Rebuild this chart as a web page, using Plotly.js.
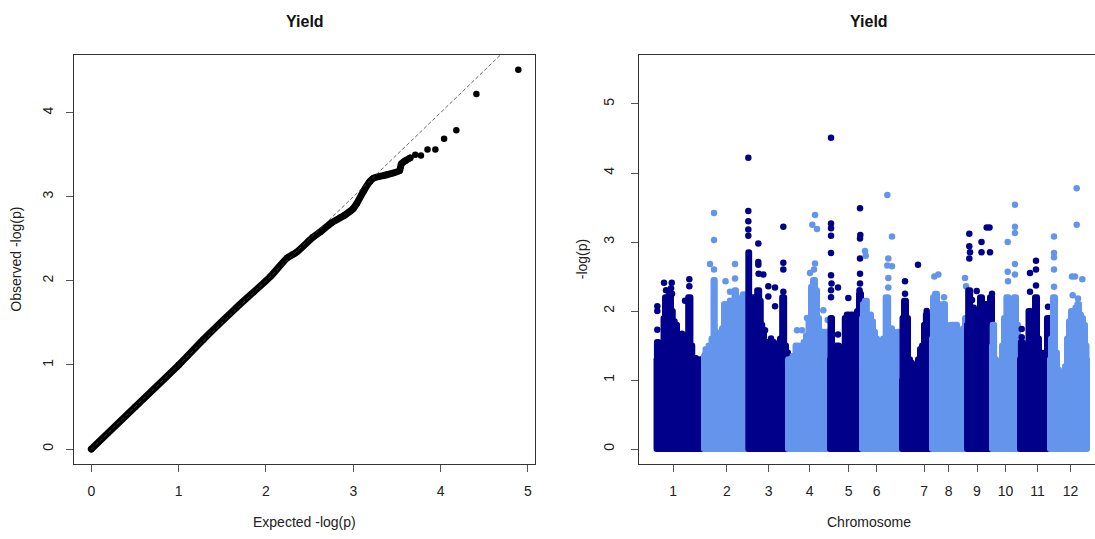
<!DOCTYPE html>
<html>
<head>
<meta charset="utf-8">
<script src="https://cdn.plot.ly/plotly-3.0.1.min.js"></script>
<style>
html,body{margin:0;padding:0;background:#fff;}
#chart{width:1095px;height:539px;}
.scatterlayer .js-line{stroke-linejoin:round;stroke-linecap:round;}
</style>
</head>
<body>
<div id="chart"></div>
<script>
// ---------------- QQ plot data ----------------
const qqExpected = [0, 0.5, 1.0, 1.28, 1.66, 2.05, 2.24, 2.35, 2.54, 2.62, 2.75, 2.90, 3.00, 3.04, 3.12, 3.19, 3.23, 3.38, 3.53, 3.55, 3.60, 3.65];
const qqObserved = [0, 0.5, 1.0, 1.30, 1.68, 2.05, 2.27, 2.34, 2.52, 2.58, 2.69, 2.78, 2.86, 2.92, 3.07, 3.18, 3.22, 3.26, 3.31, 3.39, 3.43, 3.46];
const qqTopExpected = [3.71, 3.775, 3.85, 3.94, 4.04, 4.18, 4.41, 4.89];
const qqTopObserved = [3.50, 3.49, 3.56, 3.56, 3.69, 3.79, 4.22, 4.51];

// ---------------- Manhattan plot data ----------------
const chromosomes = ['1','2','3','4','5','6','7','8','9','10','11','12'];
const chromTickPos = [33, 86.9, 128.5, 169.5, 208.7, 236.7, 284.2, 308.7, 337, 365.4, 397.5, 430.6];

// upper envelope of the dense SNP cloud, per chromosome
const bodyPos = [
  [16.5, 17.3, 19, 21, 23, 24, 26, 28, 30, 32, 33.5, 36, 38, 39.5, 41.5, 43, 45, 47, 49.3, 51.5, 53, 55, 57, 59, 61, 62],
  [64, 67, 70, 73, 74, 75.5, 77, 79, 81, 83, 85, 87, 89, 90, 92, 94, 95, 97, 99, 101, 102.5, 104, 106, 108, 110],
  [108.3, 110, 112, 114, 116, 118.3, 120, 121.5, 123, 125, 127, 129, 131, 133, 135, 137, 139, 141, 143.3, 145, 147, 149],
  [148, 151, 154, 157, 160, 162, 165, 167, 170, 172, 174, 176, 178, 180, 183, 185, 187, 189, 191, 192],
  [190, 191, 193, 195, 197.7, 200, 202, 204, 205.5, 208, 210, 212, 214, 216, 218, 220, 222],
  [222, 224, 225.7, 228, 230, 232, 234, 236, 238, 240, 242, 244, 247.3, 249, 251, 253, 255, 257, 259, 261, 262],
  [262, 263, 265, 267, 269, 271, 273, 275, 277, 279, 281, 283, 285, 286.7, 288, 290, 292],
  [292, 294, 296, 298, 300, 302, 304, 306, 308, 310, 312, 314, 316, 318, 320, 322, 324, 326, 328],
  [327, 329.3, 331, 333, 335, 337, 339, 341, 343, 345, 347, 349, 351, 353],
  [352, 353.3, 355, 357, 359, 361, 363, 365, 367.7, 369, 371, 373, 375, 377, 379, 380],
  [380, 381.7, 383.3, 385, 387, 390, 392, 394, 396, 398, 400, 402, 404, 406, 408, 410, 412],
  [410, 412, 414, 416, 418, 420, 422, 424, 426, 428, 430, 432, 434, 436.7, 438, 440, 442, 444, 446, 447]
];
const bodyTop = [
  [1.3, 1.55, 1.3, 1.38, 1.4, 1.9, 2.2, 1.95, 2.25, 2.0, 1.85, 1.8, 1.45, 1.3, 1.6, 1.65, 1.5, 1.4, 2.2, 1.5, 1.3, 1.32, 1.2, 1.22, 1.3, 1.3],
  [1.35, 1.45, 1.5, 1.6, 2.45, 1.7, 1.6, 1.65, 1.55, 1.75, 2.1, 1.8, 1.85, 2.1, 1.85, 1.95, 2.3, 1.9, 1.85, 2.0, 2.2, 2.0, 1.9, 1.85, 1.7],
  [2.85, 2.2, 2.1, 2.2, 2.15, 2.3, 2.15, 1.8, 1.7, 1.4, 1.55, 1.5, 1.45, 1.55, 1.5, 1.4, 1.5, 1.6, 2.2, 1.5, 1.4, 1.35],
  [1.3, 1.25, 1.35, 1.5, 1.45, 1.4, 1.55, 1.65, 1.9, 2.35, 2.45, 2.3, 1.9, 1.5, 1.7, 1.5, 1.7, 1.6, 1.45, 1.3],
  [1.3, 1.9, 1.35, 1.3, 1.5, 1.1, 1.05, 1.2, 1.9, 1.95, 1.9, 1.95, 1.9, 1.7, 2.0, 2.25, 1.9],
  [1.9, 2.1, 2.15, 1.9, 1.95, 1.85, 1.7, 1.6, 1.3, 1.35, 1.4, 1.6, 2.2, 1.7, 1.75, 1.7, 1.55, 1.55, 1.7, 1.4, 1.2],
  [1.0, 1.9, 2.15, 1.9, 1.3, 1.25, 1.15, 1.2, 1.2, 1.3, 1.45, 1.5, 1.8, 1.95, 1.7, 1.75, 1.7],
  [1.6, 2.2, 2.25, 2.1, 1.75, 1.8, 2.1, 1.8, 1.6, 1.65, 1.8, 1.75, 1.8, 1.7, 1.65, 1.7, 1.75, 1.9, 1.9],
  [1.8, 2.3, 1.95, 2.05, 1.9, 1.95, 2.0, 2.2, 2.0, 1.9, 2.1, 1.9, 2.2, 1.6],
  [1.5, 1.8, 1.3, 1.0, 0.95, 1.1, 1.5, 1.9, 2.2, 1.9, 1.8, 2.0, 2.2, 1.8, 1.5, 1.3],
  [1.3, 1.55, 1.35, 1.25, 1.4, 2.0, 1.7, 1.8, 2.2, 1.6, 1.4, 1.35, 1.3, 1.4, 1.9, 1.3, 1.2],
  [1.3, 1.6, 2.2, 1.4, 1.15, 1.05, 1.0, 1.1, 1.2, 1.6, 1.85, 2.0, 1.95, 2.05, 2.1, 1.95, 1.9, 1.8, 1.5, 1.3]
];
// isolated SNPs above the cloud, per chromosome
const snpPos = [
  [17.3, 17.3, 17.3, 24, 26, 28, 32, 31.7, 31, 27, 45, 49.3, 49.3, 42, 65],
  [70, 74, 74, 74, 85.5, 90, 90, 95, 95, 103, 106, 96],
  [108.3, 108.3, 108.3, 108.3, 108.3, 118.3, 118.3, 118.3, 118.6, 123.3, 128.3, 128.3, 135, 135, 131, 125, 143.3, 143.3, 143.3, 143.3],
  [175, 172.3, 177, 175, 174, 170, 183.3, 157, 162, 167, 187.7],
  [191, 191, 191, 191, 191, 191, 191.5, 191, 191, 198, 198, 208.3, 220, 220.3, 220, 220, 220, 220, 219.5],
  [225, 225.7, 247.3, 252, 248.3, 247.3, 252, 248.3, 248.3],
  [265, 265, 278, 286.7, 291],
  [294.3, 298.3, 304, 325, 326],
  [329.3, 329.3, 330, 329.3, 332, 336.7, 341.5, 341.5, 346.7, 349.5, 350, 352],
  [367.7, 367.7, 368, 375, 375, 375, 375, 375, 353.3, 353.3],
  [390, 390, 396, 396, 396, 381.7, 381.7, 408],
  [414, 414, 414, 414, 414, 432, 435, 432.7, 436.7, 436.7, 442.3, 438]
];
const snpLogP = [
  [2.07, 2.0, 1.73, 2.41, 2.3, 2.2, 2.25, 2.41, 2.33, 2.0, 2.15, 2.46, 2.36, 1.67, 1.36],
  [2.68, 3.42, 3.03, 2.6, 2.43, 2.28, 2.15, 2.68, 2.47, 2.24, 2.24, 2.1],
  [4.22, 3.45, 3.3, 3.18, 3.09, 2.98, 2.71, 2.67, 2.54, 2.53, 2.36, 2.21, 2.34, 2.07, 1.6, 1.72, 3.22, 2.7, 2.6, 2.28],
  [3.39, 3.25, 3.19, 2.69, 2.6, 2.55, 2.01, 1.72, 1.72, 1.9, 1.87],
  [4.51, 3.27, 3.2, 3.09, 2.84, 2.52, 2.4, 2.3, 2.2, 2.34, 1.66, 2.19, 3.49, 3.1, 3.05, 2.76, 2.54, 2.4, 2.3],
  [2.87, 2.8, 3.68, 3.08, 2.76, 2.66, 2.65, 2.48, 2.34],
  [2.43, 2.25, 2.67, 2.0, 1.8],
  [2.5, 2.53, 2.2, 2.48, 2.36],
  [3.12, 2.94, 2.85, 2.76, 2.16, 2.29, 3.0, 2.85, 3.21, 3.21, 2.85, 2.25],
  [3.0, 2.57, 2.43, 3.54, 3.22, 3.13, 2.68, 2.53, 1.57, 1.38],
  [2.55, 2.28, 2.73, 2.6, 2.37, 1.74, 1.62, 2.06],
  [3.08, 2.84, 2.78, 2.6, 2.35, 2.5, 2.5, 2.23, 3.78, 3.25, 2.46, 2.18]
];

// ---------------- styles ----------------
const chromColors = ['#00008B', '#6495ED'];
const FONT = 'Liberation Sans, Arial, Helvetica, sans-serif';
const PT = 6.5;

const traces = [];
// QQ plot
traces.push({x: qqExpected, y: qqObserved, xaxis: 'x', yaxis: 'y', type: 'scatter', mode: 'lines+markers',
  line: {color: '#000', width: 7, shape: 'spline', smoothing: 0.6}, marker: {color: '#000', size: PT}, hoverinfo: 'skip'});
traces.push({x: qqTopExpected, y: qqTopObserved, xaxis: 'x', yaxis: 'y', type: 'scatter', mode: 'markers',
  marker: {color: '#000', size: PT}, hoverinfo: 'skip'});
traces.push({x: [0, 5.2], y: [0, 5.2], xaxis: 'x', yaxis: 'y', type: 'scatter', mode: 'lines',
  line: {color: '#444', width: 0.8, dash: '3px,3px'}, hoverinfo: 'skip'});

// Manhattan plot
for (let c = 0; c < chromosomes.length; c++) {
  const col = chromColors[c % 2];
  const px = bodyPos[c], py = bodyTop[c];
  const x0 = px[0], xN = px[px.length - 1];
  traces.push({x: [x0].concat(px, [xN, x0]), y: [0].concat(py, [0, 0]), xaxis: 'x2', yaxis: 'y2',
    type: 'scatter', mode: 'lines', fill: 'toself', fillcolor: col,
    line: {color: col, width: PT - 0.5, shape: 'hvh'}, hoverinfo: 'skip'});
  traces.push({x: snpPos[c], y: snpLogP[c], xaxis: 'x2', yaxis: 'y2', type: 'scatter', mode: 'markers',
    marker: {color: col, size: PT}, hoverinfo: 'skip'});
}

const axisCommon = {ticks: 'outside', ticklen: 7, tickwidth: 1, tickcolor: '#555', showline: true,
  linecolor: '#333', linewidth: 1, showgrid: false, zeroline: false,
  tickfont: {family: FONT, size: 14, color: '#222'}};

const layout = {
  width: 1095, height: 539,
  margin: {l: 74, r: 0, t: 55, b: 75},
  paper_bgcolor: '#fff', plot_bgcolor: '#fff', showlegend: false,
  font: {family: FONT, size: 14, color: '#222'},
  xaxis: Object.assign({}, axisCommon, {domain: [0, 0.4515], range: [-0.199, 5.081], tickvals: [0,1,2,3,4,5], mirror: true, anchor: 'y', ticklabelstandoff: 7}),
  yaxis: Object.assign({}, axisCommon, {domain: [0, 1], range: [-0.178, 4.685], tickvals: [0,1,2,3,4], tickangle: -90, mirror: true, anchor: 'x', ticklabelstandoff: 7}),
  xaxis2: Object.assign({}, axisCommon, {domain: [0.5537, 1], range: [-0.7, 455], tickvals: chromTickPos, ticktext: chromosomes, mirror: true, anchor: 'y2', ticklabelstandoff: 7}),
  yaxis2: Object.assign({}, axisCommon, {domain: [0, 1], range: [-0.217, 5.71], tickvals: [0,1,2,3,4,5], tickangle: -90, mirror: false, anchor: 'x2', ticklabelstandoff: 12}),
  annotations: [
    {text: '<b>Yield</b>', xref: 'paper', yref: 'paper', x: 0.2258, y: 1.083, xanchor: 'center', yanchor: 'middle', showarrow: false, font: {family: FONT, size: 16, color: '#111'}},
    {text: '<b>Yield</b>', xref: 'paper', yref: 'paper', x: 0.7786, y: 1.083, xanchor: 'center', yanchor: 'middle', showarrow: false, font: {family: FONT, size: 16, color: '#111'}},
    {text: 'Expected -log(p)', xref: 'paper', yref: 'paper', x: 0.2258, y: -0.143, xanchor: 'center', yanchor: 'middle', showarrow: false, font: {family: FONT, size: 14, color: '#222'}},
    {text: 'Chromosome', xref: 'paper', yref: 'paper', x: 0.7786, y: -0.143, xanchor: 'center', yanchor: 'middle', showarrow: false, font: {family: FONT, size: 14, color: '#222'}},
    {text: 'Observed -log(p)', xref: 'paper', yref: 'paper', x: -0.0576, y: 0.5, xanchor: 'center', yanchor: 'middle', textangle: -90, showarrow: false, font: {family: FONT, size: 14, color: '#222'}},
    {text: '-log(p)', xref: 'paper', yref: 'paper', x: 0.4973, y: 0.5, xanchor: 'center', yanchor: 'middle', textangle: -90, showarrow: false, font: {family: FONT, size: 14, color: '#222'}}
  ]
};

Plotly.newPlot('chart', traces, layout, {displayModeBar: false, staticPlot: true});
</script>
</body>
</html>
